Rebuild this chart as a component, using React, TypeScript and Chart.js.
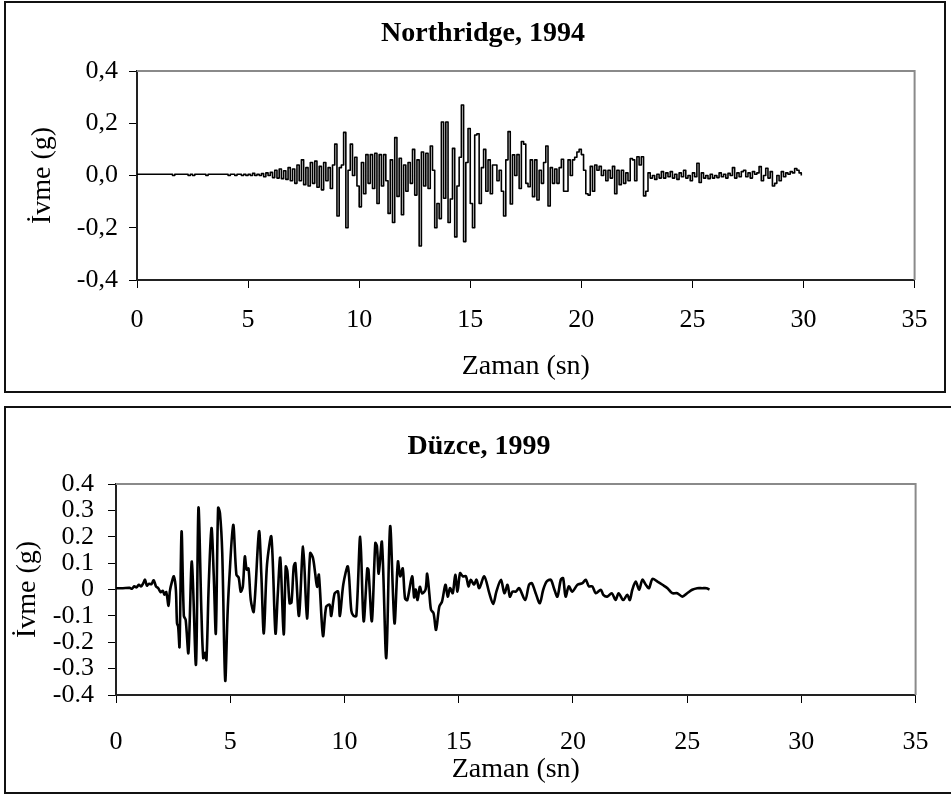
import { useEffect, useRef } from 'react';
import { Chart, registerables } from 'chart.js';

Chart.register(...registerables);

const FONT = '"Liberation Serif", "Times New Roman", serif';

// ---------- Northridge, 1994 (sampled every 0.1 s from 0 s) ----------
const northridgeStart = 0;
const northridgeStep = 0.1;
const northridgeAccel = [
  0.005, 0.005, 0.005, 0.005, 0.005, 0.005, 0.005, 0.005, 0.005, 0.005,
  0.005, 0.005, 0.005, 0.005, 0.005, 0.005, 0.0, 0.005, 0.005, 0.005,
  0.005, 0.005, 0.005, 0.0, 0.005, 0.0, 0.005, 0.005, 0.005, 0.005,
  0.005, 0.0, 0.005, 0.005, 0.005, 0.005, 0.005, 0.005, 0.005, 0.005,
  0.005, 0.0, 0.005, 0.005, 0.0, 0.005, 0.005, 0.0, 0.005, 0.0,
  0.005, 0.0, 0.008, 0.0, 0.005, 0.0, 0.007, -0.005, 0.01, 0.0,
  0.012, -0.008, 0.02, -0.01, 0.025, -0.012, 0.018, -0.015, 0.03, -0.02,
  0.025, -0.03, 0.04, -0.02, 0.06, -0.035, 0.03, -0.04, 0.05, -0.03,
  0.055, -0.045, 0.035, -0.055, 0.05, -0.02, 0.03, -0.05, 0.04, 0.12,
  -0.155, 0.03, 0.04, 0.165, -0.2, 0.02, 0.12, 0.0, 0.07, -0.04,
  -0.12, 0.05, -0.07, 0.08, -0.03, 0.08, -0.05, 0.085, -0.107, 0.08,
  -0.04, 0.08, -0.02, -0.145, 0.06, -0.18, 0.145, -0.08, 0.066, -0.15,
  0.04, -0.06, 0.05, -0.03, 0.1, -0.075, 0.06, -0.27, 0.09, -0.04,
  0.085, -0.05, 0.113, 0.02, -0.2, -0.107, -0.165, 0.205, -0.087, 0.205,
  -0.18, -0.09, 0.104, -0.235, -0.04, 0.07, 0.27, -0.253, 0.05, 0.18,
  -0.107, -0.2, 0.155, 0.16, -0.107, 0.03, 0.1, -0.06, 0.06, -0.07,
  0.04, 0.04, -0.02, 0.02, -0.06, -0.155, 0.06, 0.168, -0.109, 0.079,
  0.0, 0.08, -0.05, 0.13, 0.12, -0.03, -0.043, 0.06, -0.081, 0.06,
  -0.094, 0.02, -0.03, 0.05, 0.113, -0.117, 0.03, -0.03, 0.025, -0.03,
  0.03, 0.062, -0.06, -0.06, 0.06, 0.0, 0.06, 0.07, 0.09, 0.1,
  0.08, 0.02, -0.07, -0.075, 0.035, -0.06, 0.04, 0.02, 0.035, 0.0,
  0.02, -0.02, 0.02, -0.01, 0.035, -0.07, 0.02, -0.035, 0.02, -0.03,
  0.01, -0.02, 0.065, 0.06, -0.02, 0.072, 0.04, 0.072, -0.078, -0.06,
  0.01, -0.01, 0.0, -0.015, 0.005, -0.01, 0.015, -0.01, 0.01, -0.005,
  0.015, -0.01, 0.005, -0.015, 0.01, -0.005, 0.02, -0.01, 0.0, -0.02,
  0.01, -0.005, 0.047, -0.027, 0.01, -0.01, 0.0, -0.012, 0.005, -0.01,
  0.0, -0.008, 0.01, -0.005, 0.005, -0.01, 0.008, 0.0, 0.03, -0.01,
  0.01, -0.005, 0.015, 0.02, -0.005, 0.01, -0.01, 0.015, 0.005, 0.01,
  0.034, -0.02, 0.0, 0.028, -0.01, 0.015, -0.04, -0.03, 0.0, -0.02,
  0.015, -0.005, 0.01, 0.005, 0.015, 0.01, 0.027, 0.02, 0.01, 0.0,
];

// ---------- Düzce, 1999 ----------
const duzceTime = [
  0, 0.3, 0.6, 0.7, 0.8, 0.9, 1.0, 1.1, 1.2, 1.27,
  1.35, 1.45, 1.55, 1.65, 1.75, 1.85, 1.95, 2.05, 2.12, 2.2,
  2.3, 2.36, 2.45, 2.53, 2.62, 2.67, 2.72, 2.78, 2.87, 2.97,
  3.05, 3.17, 3.32, 3.5, 3.61, 3.74, 3.82, 3.9, 3.96, 4.06,
  4.18, 4.28, 4.37, 4.47, 4.55, 4.65, 4.78, 4.88, 4.95, 5.13,
  5.27, 5.37, 5.46, 5.55, 5.64, 5.72, 5.8, 5.9, 6.03, 6.26,
  6.36, 6.47, 6.61, 6.8, 6.98, 7.08, 7.19, 7.34, 7.43, 7.5,
  7.6, 7.68, 7.78, 7.85, 8.01, 8.19, 8.36, 8.5, 8.62, 8.72,
  8.8, 8.88, 9.06, 9.2, 9.35, 9.42, 9.57, 9.72, 9.8, 9.95,
  10.15, 10.3, 10.4, 10.52, 10.69, 10.84, 11.0, 11.05, 11.2, 11.35,
  11.42, 11.5, 11.64, 11.83, 12.0, 12.19, 12.34, 12.44, 12.55, 12.65,
  12.75, 12.96, 13.05, 13.12, 13.2, 13.3, 13.4, 13.55, 13.62, 13.72,
  13.79, 13.9, 14.01, 14.15, 14.27, 14.42, 14.52, 14.62, 14.74, 14.85,
  14.95, 15.06, 15.18, 15.32, 15.43, 15.53, 15.67, 15.78, 15.9, 16.12,
  16.34, 16.51, 16.65, 16.85, 17.0, 17.14, 17.24, 17.36, 17.5, 17.65,
  17.91, 18.08, 18.2, 18.37, 18.55, 18.7, 18.85, 19.03, 19.17, 19.32,
  19.47, 19.57, 19.68, 19.82, 19.97, 20.2, 20.42, 20.56, 20.7, 20.85,
  21.0, 21.22, 21.33, 21.5, 21.7, 21.87, 22.0, 22.2, 22.38, 22.49,
  22.6, 22.75, 22.9, 23.04, 23.19, 23.33, 23.48, 23.7, 23.92, 24.14,
  24.35, 24.57, 24.79, 25.0, 25.22, 25.44, 25.66, 25.85, 25.98,
];
const duzceAccel = [
  0.005, 0.005, 0.006, 0.003, 0.012, 0.008, 0.018, 0.012, 0.025, 0.037,
  0.015, 0.022, 0.02, 0.035, 0.012, 0.005, -0.01, -0.005, -0.02, -0.01,
  -0.062, -0.005, 0.03, 0.05, 0.0, -0.128, -0.14, -0.217, 0.22, -0.1,
  -0.115, -0.24, 0.106, -0.285, 0.31, -0.09, -0.26, -0.24, -0.267, 0.02,
  0.233, 0.05, -0.166, 0.31, 0.29, 0.14, -0.345, -0.1, 0.024, 0.245,
  0.056, 0.045, -0.008, 0.01, 0.125, 0.075, 0.08, -0.04, -0.084, 0.22,
  0.06, -0.166, 0.094, 0.2, -0.166, -0.02, 0.12, -0.17, 0.087, 0.07,
  -0.052, -0.05, 0.087, 0.1, -0.1, 0.163, -0.11, 0.138, 0.12, 0.06,
  0.01, 0.056, -0.176, -0.065, -0.058, -0.1, -0.015, -0.008, -0.1, 0.02,
  0.087, -0.08, -0.1, -0.1, 0.2, -0.12, 0.08, 0.075, -0.12, 0.176,
  0.165, 0.06, 0.18, -0.26, 0.24, -0.128, 0.106, 0.05, 0.08, -0.033,
  -0.04, 0.05, -0.03, 0.0, -0.04, 0.01, -0.015, 0.0, 0.06, -0.02,
  -0.077, -0.09, -0.153, -0.065, -0.046, 0.018, -0.027, 0.005, -0.014, 0.056,
  -0.008, 0.062, 0.05, 0.05, 0.012, 0.037, 0.018, 0.037, 0.005, 0.05,
  -0.014, -0.055, -0.008, 0.037, -0.014, 0.018, -0.027, -0.008, -0.008, 0.005,
  -0.04, 0.018, 0.024, -0.014, -0.052, -0.001, 0.03, 0.037, 0.005, -0.027,
  0.037, 0.043, -0.027, 0.012, -0.008, 0.018, 0.024, 0.037, 0.012, 0.012,
  -0.014, -0.001, -0.02, -0.027, -0.014, -0.04, -0.014, -0.04, -0.02, -0.04,
  -0.001, 0.03, -0.001, 0.037, 0.018, 0.005, 0.04, 0.03, 0.018, 0.005,
  -0.014, -0.014, -0.027, -0.014, -0.001, 0.005, 0.005, 0.005, 0.0,
];

// ---------- ticks ----------
const xTickValues = [0, 5, 10, 15, 20, 25, 30, 35];
const xTickLabels = ['0', '5', '10', '15', '20', '25', '30', '35'];
const northridgeYTickValues = [-0.4, -0.2, 0, 0.2, 0.4];
const northridgeYTickLabels = ['-0,4', '-0,2', '0,0', '0,2', '0,4'];
const duzceYTickValues = [-0.4, -0.3, -0.2, -0.1, 0, 0.1, 0.2, 0.3, 0.4];
const duzceYTickLabels = ['-0.4', '-0.3', '-0.2', '-0.1', '0', '0.1', '0.2', '0.3', '0.4'];

const frameLines = {
  id: 'frameLines',
  beforeDatasetsDraw(chart: any) {
    const { ctx, chartArea: a } = chart;
    ctx.save();
    ctx.strokeStyle = '#8a8a8a';
    ctx.lineWidth = 2;
    ctx.beginPath();
    ctx.moveTo(a.left, a.top);
    ctx.lineTo(a.right, a.top);
    ctx.lineTo(a.right, a.bottom);
    ctx.stroke();
    ctx.restore();
  },
};

type Props = {
  title: string;
  points: { x: number; y: number }[];
  stepped: boolean;
  tension: number;
  lineWidth: number;
  w: number;
  h: number;
  padLeft: number;
  padRight: number;
  titleTop: number;
  titleBottom: number;
  yWidth: number;
  yTickPad: number;
  yTitlePad: number;
  yTickValues: number[];
  yTickLabels: string[];
  xHeight: number;
  xTickPad: number;
  xTitlePad: number;
};

function QuakeChart(p: Props) {
  const ref = useRef<HTMLCanvasElement | null>(null);
  useEffect(() => {
    if (!ref.current) return;
    const tickFont = { family: FONT, size: 26, lineHeight: 1.2 };
    const axisTitleFont = { family: FONT, size: 28, lineHeight: 1.2 };
    const chart = new Chart(ref.current, {
      type: 'line',
      data: {
        datasets: [
          {
            data: p.points,
            borderColor: '#000',
            borderWidth: p.lineWidth,
            pointRadius: 0,
            stepped: p.stepped,
            tension: p.tension,
            cubicInterpolationMode: 'default',
            borderJoinStyle: 'round',
            fill: false,
          } as any,
        ],
      },
      options: {
        animation: false,
        responsive: false,
        devicePixelRatio: 1,
        parsing: false as any,
        layout: { padding: { left: p.padLeft, right: p.padRight, top: 0, bottom: 0 } },
        plugins: {
          legend: { display: false },
          tooltip: { enabled: false },
          title: {
            display: true,
            text: p.title,
            color: '#000',
            font: { family: FONT, size: 28, weight: 'bold', lineHeight: 1.2 },
            padding: { top: p.titleTop, bottom: p.titleBottom },
          },
        },
        scales: {
          x: {
            type: 'linear',
            min: 0,
            max: 35,
            afterBuildTicks: (s: any) => {
              s.ticks = xTickValues.map((v) => ({ value: v }));
            },
            afterFit: (s: any) => {
              s.height = p.xHeight;
            },
            ticks: {
              callback: (_v: any, i: number) => xTickLabels[i],
              color: '#000',
              font: tickFont,
              padding: p.xTickPad,
              autoSkip: false,
              maxRotation: 0,
            },
            grid: { display: true, drawOnChartArea: false, drawTicks: true, tickLength: 8, color: '#000', lineWidth: 1 },
            border: { display: true, color: '#222', width: 2 },
            title: {
              display: true,
              text: 'Zaman (sn)',
              color: '#000',
              font: axisTitleFont,
              padding: { top: 0, bottom: p.xTitlePad },
            },
          },
          y: {
            type: 'linear',
            min: -0.4,
            max: 0.4,
            afterBuildTicks: (s: any) => {
              s.ticks = p.yTickValues.map((v) => ({ value: v }));
            },
            afterFit: (s: any) => {
              s.width = p.yWidth;
            },
            ticks: {
              callback: (_v: any, i: number) => p.yTickLabels[i],
              color: '#000',
              font: tickFont,
              padding: p.yTickPad,
              autoSkip: false,
            },
            grid: { display: true, drawOnChartArea: false, drawTicks: true, tickLength: 8, color: '#000', lineWidth: 1 },
            border: { display: true, color: '#222', width: 2 },
            title: {
              display: true,
              text: 'İvme (g)',
              color: '#000',
              font: axisTitleFont,
              padding: { top: p.yTitlePad, bottom: 0 },
            },
          },
        },
      } as any,
      plugins: [frameLines],
    });
    return () => chart.destroy();
  }, []);
  return <canvas ref={ref} width={p.w} height={p.h} style={{ display: 'block' }} />;
}

const northridgePoints = northridgeAccel.map((v, i) => ({
  x: Math.round((northridgeStart + i * northridgeStep) * 100) / 100,
  y: v,
}));
const duzcePoints = duzceTime.map((t, i) => ({ x: t, y: duzceAccel[i] }));

export default function App() {
  const boxStyle = (left: number, top: number, width: number, height: number): any => ({
    position: 'absolute',
    left,
    top,
    width,
    height,
    boxSizing: 'border-box',
    border: '2px solid #111',
    background: '#fff',
  });
  return (
    <div>
      <div style={boxStyle(4, 1, 942, 392)}>
        <QuakeChart
          title="Northridge, 1994"
          points={northridgePoints}
          stepped={true}
          tension={0}
          lineWidth={1.6}
          w={938}
          h={388}
          padLeft={36}
          padRight={20}
          titleTop={14.2}
          titleBottom={20.2}
          yWidth={95}
          yTickPad={11}
          yTitlePad={-15.8}
          yTickValues={northridgeYTickValues}
          yTickLabels={northridgeYTickLabels}
          xHeight={111}
          xTickPad={16.4}
          xTitlePad={7.2}
        />
      </div>
      <div style={boxStyle(4, 406, 950, 388)}>
        <QuakeChart
          title="Düzce, 1999"
          points={duzcePoints}
          stepped={false}
          tension={0.3}
          lineWidth={2.6}
          w={946}
          h={384}
          padLeft={35}
          padRight={35}
          titleTop={22.2}
          titleBottom={20.2}
          yWidth={75}
          yTickPad={14}
          yTitlePad={-29.8}
          yTickValues={duzceYTickValues}
          yTickLabels={duzceYTickLabels}
          xHeight={97}
          xTickPad={23.4}
          xTitlePad={5.2}
        />
      </div>
    </div>
  );
}
